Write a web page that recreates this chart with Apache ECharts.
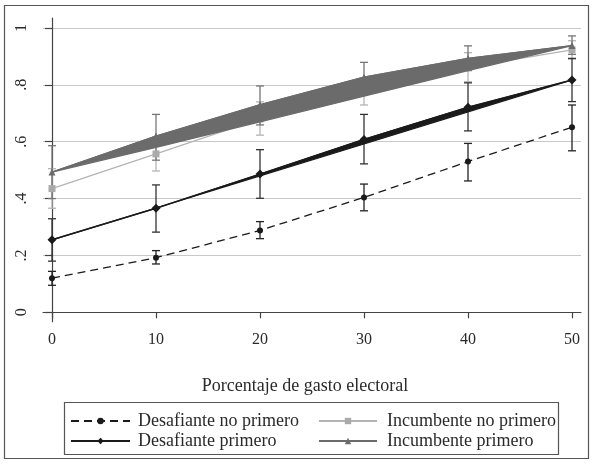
<!DOCTYPE html>
<html>
<head>
<meta charset="utf-8">
<script src="https://cdn.jsdelivr.net/npm/echarts@6/dist/echarts.min.js"></script>
<style>html,body{margin:0;padding:0;background:#fff}#c{width:592px;height:464px}</style>
</head>
<body>
<div id="c"></div>
<script>
const xs = [0, 10, 20, 30, 40, 50];
const xTicks = [0, 10, 20, 30, 40, 50];
const yTicks = [0, 0.2, 0.4, 0.6, 0.8, 1];
const yTickLabels = ['0', '.2', '.4', '.6', '.8', '1'];

const desNoPrim   = [0.120, 0.192, 0.288, 0.404, 0.530, 0.651];
const desNoPrimLo = [0.095, 0.170, 0.259, 0.357, 0.462, 0.568];
const desNoPrimHi = [0.144, 0.217, 0.319, 0.451, 0.594, 0.729];

const desPrim     = [0.255, 0.366, 0.486, 0.608, 0.721, 0.817];
const desPrimLo   = [0.180, 0.282, 0.401, 0.522, 0.638, 0.741];
const desPrimHi   = [0.329, 0.448, 0.572, 0.696, 0.807, 0.893];
const desPrimBand = [0.255, 0.367, 0.480, 0.592, 0.705, 0.817];

const incNoPrim   = [0.435, 0.557, 0.680, 0.775, 0.862, 0.923];
const incNoPrimLo = [0.366, 0.497, 0.623, 0.729, 0.811, 0.890];
const incNoPrimHi = [0.505, 0.617, 0.740, 0.820, 0.913, 0.955];

const incPrim     = [0.493, 0.620, 0.730, 0.827, 0.893, 0.938];
const incPrimLo   = [0.400, 0.535, 0.659, 0.775, 0.850, 0.907];
const incPrimHi   = [0.586, 0.696, 0.796, 0.879, 0.937, 0.972];
const incPrimBand = [0.493, 0.580, 0.670, 0.760, 0.850, 0.938];

const names = ['Desafiante no primero', 'Desafiante primero', 'Incumbente no primero', 'Incumbente primero'];
const FONT = 'Liberation Serif';
const TXT = '#2a2a2a';

function pairs(v) { return xs.map((x, i) => [x, v[i]]); }

function errSeries(lo, hi, color, z) {
  return {
    type: 'custom', silent: true, z: z,
    data: xs.map((x, i) => [x, lo[i], hi[i]]),
    renderItem: function (params, api) {
      const a = api.coord([api.value(0), api.value(1)]);
      const b = api.coord([api.value(0), api.value(2)]);
      const w = 4;
      const st = { stroke: color, lineWidth: 1.3 };
      return { type: 'group', children: [
        { type: 'line', shape: { x1: a[0], y1: a[1], x2: b[0], y2: b[1] }, style: st },
        { type: 'line', shape: { x1: a[0] - w, y1: a[1], x2: a[0] + w, y2: a[1] }, style: st },
        { type: 'line', shape: { x1: b[0] - w, y1: b[1], x2: b[0] + w, y2: b[1] }, style: st }
      ]};
    }
  };
}

function bandSeries(upper, lower, color, z) {
  return {
    type: 'custom', silent: true, z: z,
    data: xs.map((x, i) => [x, upper[i], lower[i]]),
    renderItem: function (params, api) {
      if (params.dataIndex !== 0) return null;
      const pts = [];
      for (let i = 0; i < xs.length; i++) pts.push(api.coord([xs[i], upper[i]]));
      for (let i = xs.length - 1; i >= 0; i--) pts.push(api.coord([xs[i], lower[i]]));
      return { type: 'polygon', shape: { points: pts }, style: { fill: color, stroke: color, lineWidth: 1.2 } };
    }
  };
}

const chart = echarts.init(document.getElementById('c'), null, { renderer: 'canvas' });
chart.setOption({
  backgroundColor: '#fff',
  animation: false,
  textStyle: { fontFamily: FONT },
  grid: { left: 43, right: 11, top: 18, bottom: 142.3, containLabel: false },
  xAxis: {
    type: 'value', min: -0.865, max: 50.865,
    axisLine: { show: true, lineStyle: { color: '#444', width: 1.2 } },
    axisTick: { show: true, length: 6, customValues: xTicks, lineStyle: { color: '#444', width: 1.2 } },
    axisLabel: { customValues: xTicks, margin: 10, fontSize: 16, color: TXT, fontFamily: FONT },
    splitLine: { show: false }
  },
  yAxis: {
    type: 'value', min: -0.033, max: 1.035,
    axisLine: { show: true, lineStyle: { color: '#444', width: 1.2 } },
    axisTick: { show: true, length: 7, customValues: yTicks, lineStyle: { color: '#444', width: 1.2 } },
    axisLabel: {
      customValues: yTicks, rotate: 90, margin: 13, fontSize: 16, color: TXT, fontFamily: FONT,
      formatter: function (v) { const i = yTicks.findIndex(t => Math.abs(t - v) < 1e-6); return i >= 0 ? yTickLabels[i] : ''; }
    },
    splitLine: { show: true, lineStyle: { color: '#c8c8c8', width: 1.2 } }
  },
  legend: [
    { data: [names[0], names[1]], orient: 'vertical', left: 70, top: 412, padding: 0, itemWidth: 59, itemHeight: 8, itemGap: 2,
      textStyle: { fontSize: 18, color: TXT, fontFamily: FONT, padding: [0, 0, 0, 3] } },
    { data: [names[2], names[3]], orient: 'vertical', left: 318, top: 412, padding: 0, itemWidth: 58, itemHeight: 8, itemGap: 2,
      textStyle: { fontSize: 18, color: TXT, fontFamily: FONT, padding: [0, 0, 0, 5] } }
  ],
  graphic: [
    { type: 'rect', shape: { x: 4.5, y: 5.5, width: 584, height: 453 }, style: { fill: 'none', stroke: '#555', lineWidth: 1.2 }, silent: true },
    { type: 'rect', shape: { x: 64.5, y: 402.5, width: 494, height: 52 }, style: { fill: 'none', stroke: '#555', lineWidth: 1.2 }, silent: true },
    { type: 'text', style: { text: 'Porcentaje de gasto electoral', x: 305, y: 386, textAlign: 'center', textVerticalAlign: 'middle', fill: TXT, font: '18px "Liberation Serif"' }, silent: true }
  ],
  series: [
    errSeries(incNoPrimLo, incNoPrimHi, '#b4b4b4', 2),
    errSeries(incPrimLo, incPrimHi, '#767676', 3),
    errSeries(desNoPrimLo, desNoPrimHi, '#222', 4),
    errSeries(desPrimLo, desPrimHi, '#333', 4),
    { name: names[2], type: 'line', z: 4, data: pairs(incNoPrim), symbol: 'rect', symbolSize: 7,
      itemStyle: { color: '#aaaaaa' }, lineStyle: { color: '#b4b4b4', width: 1.3 } },
    bandSeries(incPrim, incPrimBand, '#6b6b6b', 5),
    bandSeries(desPrim, desPrimBand, '#1a1a1a', 5),
    { name: names[3], type: 'line', z: 7, data: pairs(incPrim), symbol: 'triangle', symbolSize: 7,
      itemStyle: { color: '#6b6b6b' }, lineStyle: { color: '#6b6b6b', width: 1.3 } },
    { name: names[0], type: 'line', z: 8, data: pairs(desNoPrim), symbol: 'circle', symbolSize: 6,
      itemStyle: { color: '#1a1a1a' }, lineStyle: { color: '#1a1a1a', width: 1.3, type: [8, 5] } },
    { name: names[1], type: 'line', z: 8, data: pairs(desPrim), symbol: 'diamond', symbolSize: 9,
      itemStyle: { color: '#1a1a1a' }, lineStyle: { color: '#1a1a1a', width: 1.5 } }
  ]
});
</script>
</body>
</html>
